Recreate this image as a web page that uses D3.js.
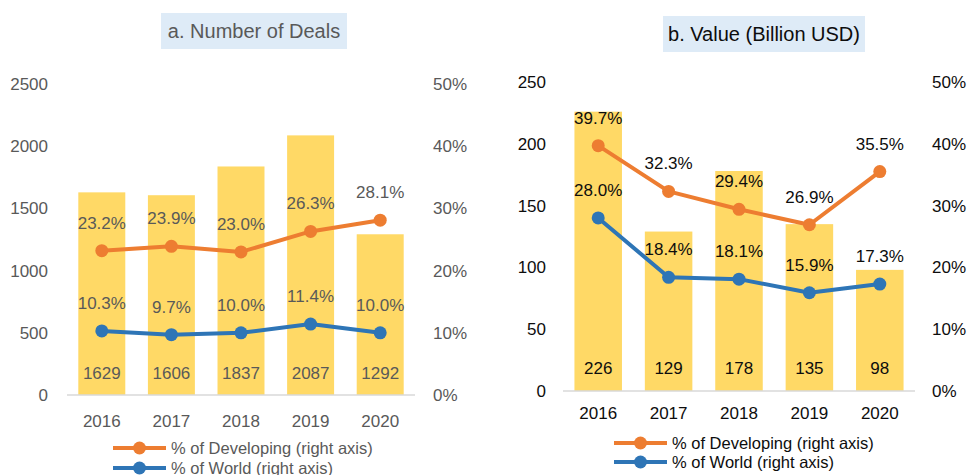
<!DOCTYPE html>
<html>
<head>
<meta charset="utf-8">
<script src="https://cdn.jsdelivr.net/npm/d3@7"></script>
<style>
  body { margin: 0; background: #fff; }
  svg { display: block; font-family: "Liberation Sans", Arial, sans-serif; }
</style>
</head>
<body>
<div id="chart"></div>
<script>
const years = [2016, 2017, 2018, 2019, 2020];

// a. Number of Deals
const dealCounts = [1629, 1606, 1837, 2087, 1292];
const dealDevShare = [23.2, 23.9, 23.0, 26.3, 28.1];
const dealWorldShare = [10.3, 9.7, 10.0, 11.4, 10.0];
const dealTicks = [0, 500, 1000, 1500, 2000, 2500];

// b. Value (Billion USD)
const valueBn = [226, 129, 178, 135, 98];
const valueDevShare = [39.7, 32.3, 29.4, 26.9, 35.5];
const valueWorldShare = [28.0, 18.4, 18.1, 15.9, 17.3];
const valueTicks = [0, 50, 100, 150, 200, 250];

const pctTicks = [0, 10, 20, 30, 40, 50];
const legendLabels = ["% of Developing (right axis)", "% of World (right axis)"];

const orange = "#ED7D31", blue = "#2E75B6", gold = "#FFD966";
const fs = 17; // label font size

const svg = d3.select("#chart").append("svg")
    .attr("width", 968)
    .attr("height", 475);

function drawPanel(p) {
    const g = svg.append("g");

    // title box
    g.append("rect")
        .attr("x", p.titleBox[0]).attr("y", p.titleBox[1])
        .attr("width", p.titleBox[2]).attr("height", p.titleBox[3])
        .attr("fill", "#DEEBF7");
    g.append("text")
        .attr("x", p.titleBox[0] + p.titleBox[2] / 2)
        .attr("y", p.titleBox[1] + p.titleBox[3] / 2)
        .attr("dy", "0.35em")
        .attr("text-anchor", "middle")
        .attr("font-size", 20)
        .attr("fill", p.titleColor)
        .text(p.title);

    const x = d3.scaleBand().domain(years).range([p.x0, p.x1])
        .paddingInner(0.325).paddingOuter(0.1625);
    const y = d3.scaleLinear().domain([0, d3.max(p.ticks)]).range([p.yBase, p.yTop]);
    const yPct = d3.scaleLinear().domain([0, 50]).range([p.yBase, p.yTop]);

    // bars
    g.append("g").selectAll("rect").data(p.bars).enter().append("rect")
        .attr("x", (d, i) => x(years[i]))
        .attr("y", d => y(d))
        .attr("width", x.bandwidth())
        .attr("height", d => y(0) - y(d))
        .attr("fill", gold);

    // axis line
    g.append("line")
        .attr("x1", p.x0).attr("x2", p.x1)
        .attr("y1", p.yBase).attr("y2", p.yBase)
        .attr("stroke", "#D9D9D9").attr("stroke-width", 1.5);

    // left axis
    const la = g.append("g").attr("transform", `translate(${p.leftLabelX},0)`)
        .call(d3.axisLeft(y).tickValues(p.ticks).tickSize(0).tickPadding(0).tickFormat(d => String(d)));
    la.select(".domain").remove();
    la.selectAll("text").attr("font-size", fs).attr("fill", p.textColor).attr("font-family", null);

    // right axis
    const ra = g.append("g").attr("transform", `translate(${p.rightLabelX},0)`)
        .call(d3.axisRight(yPct).tickValues(pctTicks).tickSize(0).tickPadding(0).tickFormat(d => d + "%"));
    ra.select(".domain").remove();
    ra.selectAll("text").attr("font-size", fs).attr("fill", p.textColor).attr("font-family", null);

    // bottom axis
    const ba = g.append("g").attr("transform", `translate(0,${p.yBase})`)
        .call(d3.axisBottom(x).tickSize(0));
    ba.select(".domain").remove();
    ba.selectAll("text")
        .attr("y", p.xLabelOffset).attr("dy", "0.35em")
        .attr("font-size", fs).attr("fill", p.textColor).attr("font-family", null);

    // bar value labels
    g.append("g").selectAll("text").data(p.bars).enter().append("text")
        .attr("x", (d, i) => x(years[i]) + x.bandwidth() / 2)
        .attr("y", p.yBase - p.barLabelOffset)
        .attr("dy", "0.35em")
        .attr("text-anchor", "middle")
        .attr("font-size", fs)
        .attr("fill", p.textColor)
        .text(d => d);

    // lines
    const series = [
        { values: p.dev, color: orange },
        { values: p.world, color: blue }
    ];
    const line = d3.line()
        .x((d, i) => x(years[i]) + x.bandwidth() / 2)
        .y(d => yPct(d));

    series.forEach(s => {
        g.append("path").datum(s.values)
            .attr("d", line)
            .attr("fill", "none")
            .attr("stroke", s.color)
            .attr("stroke-width", 4)
            .attr("stroke-linejoin", "round");
        g.append("g").selectAll("circle").data(s.values).enter().append("circle")
            .attr("cx", (d, i) => x(years[i]) + x.bandwidth() / 2)
            .attr("cy", d => yPct(d))
            .attr("r", 6.5)
            .attr("fill", s.color);
        g.append("g").selectAll("text").data(s.values).enter().append("text")
            .attr("x", (d, i) => x(years[i]) + x.bandwidth() / 2)
            .attr("y", d => yPct(d) - 28)
            .attr("dy", "0.35em")
            .attr("text-anchor", "middle")
            .attr("font-size", fs)
            .attr("fill", p.textColor)
            .text(d => d.toFixed(1) + "%");
    });

    // legend
    series.forEach((s, i) => {
        const ly = p.legendY[i];
        g.append("line")
            .attr("x1", p.legendX).attr("x2", p.legendX + 53)
            .attr("y1", ly).attr("y2", ly)
            .attr("stroke", s.color).attr("stroke-width", 4);
        g.append("circle")
            .attr("cx", p.legendX + 26.5).attr("cy", ly).attr("r", 6.5)
            .attr("fill", s.color);
        g.append("text")
            .attr("x", p.legendX + 58).attr("y", ly)
            .attr("dy", "0.35em")
            .attr("font-size", 16.5)
            .attr("fill", p.textColor)
            .text(legendLabels[i]);
    });
}

drawPanel({
    title: "a. Number of Deals",
    titleBox: [161, 13, 186, 36],
    titleColor: "#595959",
    textColor: "#595959",
    bars: dealCounts, dev: dealDevShare, world: dealWorldShare, ticks: dealTicks,
    x0: 67, x1: 415, yBase: 395, yTop: 84,
    leftLabelX: 48, rightLabelX: 433,
    xLabelOffset: 26, barLabelOffset: 22,
    legendX: 113, legendY: [448, 468]
});

drawPanel({
    title: "b. Value (Billion USD)",
    titleBox: [663, 16, 202, 36],
    titleColor: "#0d0d0d",
    textColor: "#0d0d0d",
    bars: valueBn, dev: valueDevShare, world: valueWorldShare, ticks: valueTicks,
    x0: 563, x1: 915, yBase: 391, yTop: 82,
    leftLabelX: 546, rightLabelX: 932,
    xLabelOffset: 22, barLabelOffset: 23,
    legendX: 614, legendY: [443, 462]
});
</script>
</body>
</html>
